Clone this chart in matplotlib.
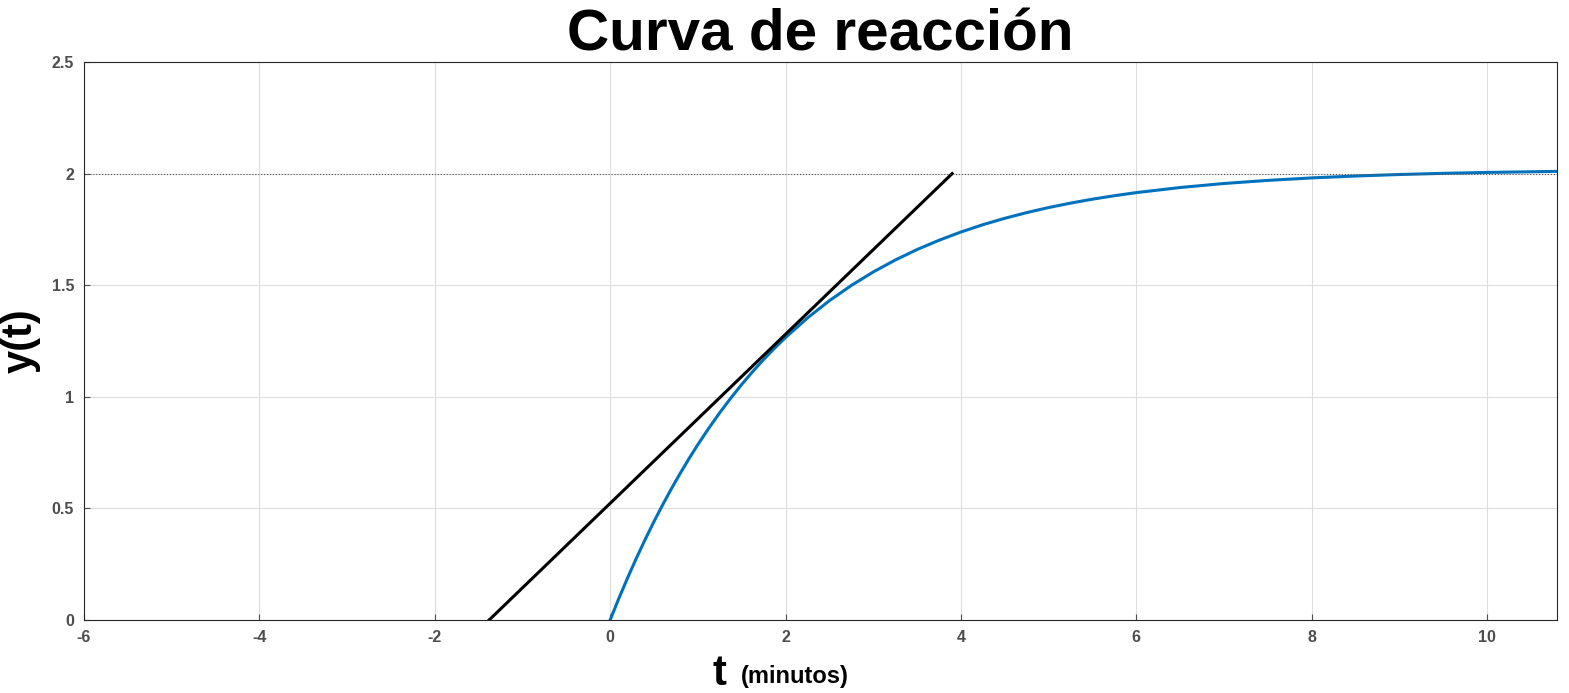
import matplotlib
matplotlib.use("Agg")
import matplotlib.pyplot as plt

t = [0, 0.1, 0.2, 0.3, 0.4, 0.5, 0.6, 0.7, 0.8, 0.9, 1.0, 1.125, 1.25, 1.375, 1.5, 1.625, 1.75, 1.875, 2,
     2.25, 2.5, 2.75, 3, 3.25, 3.5, 3.75, 4, 4.25, 4.5, 4.75, 5, 5.25, 5.5, 5.75, 6, 6.5, 7, 7.5, 8, 8.5,
     9, 9.5, 10, 10.8]
y = [0, 0.0972, 0.1895, 0.2775, 0.3612, 0.4410, 0.5169, 0.5890, 0.6579, 0.7233, 0.7858, 0.8593, 0.9288,
     0.9938, 1.0552, 1.1128, 1.1670, 1.2179, 1.2657, 1.3532, 1.4306, 1.4989, 1.5593, 1.6126, 1.6598,
     1.7014, 1.7384, 1.7711, 1.7998, 1.8253, 1.8479, 1.8679, 1.8855, 1.9010, 1.9149, 1.9378, 1.9558,
     1.9697, 1.9808, 1.9893, 1.9960, 2.0013, 2.0053, 2.0101]
tan_t = [-1.38, 3.9]
tan_y = [0, 2.0]
steady = 2.0
xticks = [-6, -4, -2, 0, 2, 4, 6, 8, 10]
xlabels = ['-6', '-4', '-2', '0', '2', '4', '6', '8', '10']
yticks = [0, 0.5, 1, 1.5, 2, 2.5]
ylabels = ['0', '0.5', '1', '1.5', '2', '2.5']

plt.rcParams['font.family'] = ['Liberation Sans', 'DejaVu Sans']
fig = plt.figure(figsize=(15.69, 6.93), dpi=100)
ax = fig.add_axes([0.0535, 0.1053, 0.939, 0.8052])
ax.plot(t, y, color='#0072BD', lw=2.2)
ax.plot(tan_t, tan_y, color='black', lw=2.2)
ax.axhline(steady, color='#555555', lw=0.8, ls=':')
ax.set_xlim(-6, 10.8)
ax.set_ylim(0, 2.5)
ax.set_xticks(xticks)
ax.set_xticklabels(xlabels)
ax.set_yticks(yticks)
ax.set_yticklabels(ylabels)
ax.grid(True, color='#dddddd', lw=0.8)
ax.tick_params(labelsize=11.5, colors='#4d4d4d', direction='in', length=4, pad=7)
for lab in ax.get_xticklabels() + ax.get_yticklabels():
    lab.set_fontweight('bold')
for s in ax.spines.values():
    s.set_color('#262626'); s.set_linewidth(0.8)
ax.set_title('Curva de reacción', fontsize=42, fontweight='bold', pad=4)
ax.set_ylabel('y(t)', fontsize=30, fontweight='bold', labelpad=8)
fig.text(0.4585, 0.012, 't', fontsize=30, fontweight='bold', ha='center')
fig.text(0.472, 0.015, '(minutos)', fontsize=17, fontweight='bold', ha='left')
fig.savefig('out.png', dpi=100)
